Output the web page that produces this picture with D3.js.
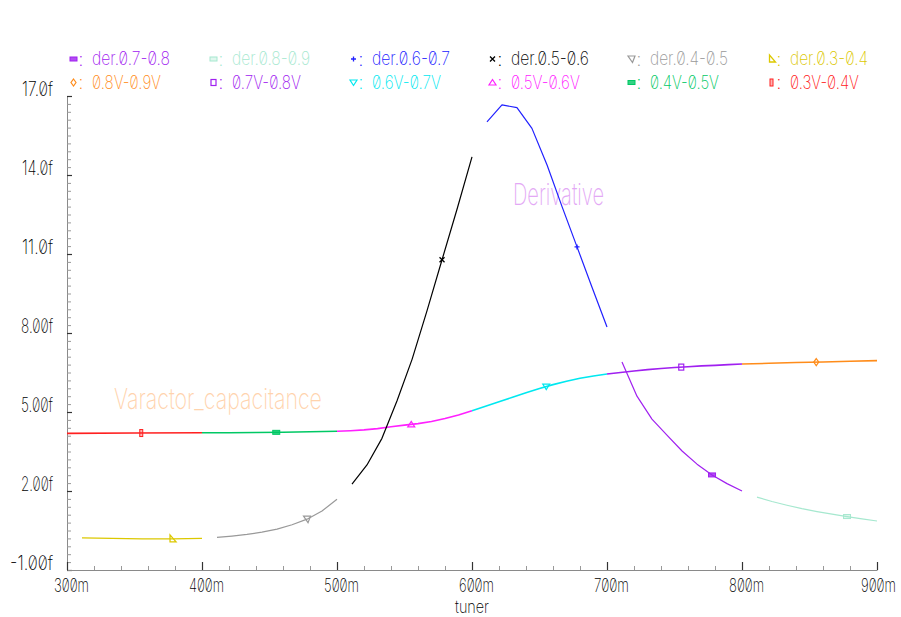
<!DOCTYPE html>
<html><head><meta charset="utf-8">
<script src="https://cdn.jsdelivr.net/npm/d3@7"></script>
<style>
body{margin:0;background:#fff;}
svg text{font-family:Inter,"DejaVu Sans",sans-serif;font-feature-settings:"zero" 1;font-weight:200;}
</style></head><body>
<svg id="c" width="901" height="617"></svg>
<script>
// ---------- data ----------
const xTicks = [0.3,0.4,0.5,0.6,0.7,0.8,0.9];
const xTickLabels = ["300m","400m","500m","600m","700m","800m","900m"];
const yTicks = [-1,2,5,8,11,14,17];
const yTickLabels = ["-1.00f","2.00f","5.00f","8.00f","11.0f","14.0f","17.0f"];

// Varactor capacitance segments (fF vs tuner V)
const capX03 = [0.30,0.35,0.40];
const capY03 = [4.19,4.20,4.21];
const capX04 = [0.40,0.42,0.44,0.46,0.48,0.50];
const capY04 = [4.21,4.21,4.22,4.23,4.25,4.27];
const capX05 = [0.50,0.51,0.52,0.53,0.54,0.55,0.56,0.57,0.58,0.59,0.60];
const capY05 = [4.27,4.29,4.32,4.37,4.44,4.50,4.56,4.64,4.75,4.89,5.05];
const capX06 = [0.60,0.61,0.62,0.63,0.64,0.65,0.66,0.67,0.68,0.69,0.70];
const capY06 = [5.05,5.22,5.39,5.56,5.73,5.89,6.04,6.17,6.28,6.37,6.44];
const capX07 = [0.70,0.71,0.72,0.73,0.74,0.75,0.76,0.77,0.78,0.79,0.80];
const capY07 = [6.44,6.50,6.56,6.61,6.65,6.69,6.72,6.75,6.77,6.80,6.82];
const capX08 = [0.80,0.82,0.84,0.86,0.88,0.90];
const capY08 = [6.82,6.85,6.88,6.90,6.93,6.95];

// Derivative segments
const derX03 = [0.3111,0.3222,0.3333,0.3444,0.3556,0.3667,0.3778,0.3889,0.4000];
const derY03 = [0.22,0.21,0.20,0.19,0.185,0.18,0.18,0.19,0.20];
const derX04 = [0.4111,0.4222,0.4333,0.4444,0.4556,0.4667,0.4778,0.4889,0.5000];
const derY04 = [0.24,0.29,0.35,0.44,0.55,0.72,0.93,1.24,1.69];
const derX05 = [0.5111,0.5222,0.5333,0.5444,0.5556,0.5667,0.5778,0.5889,0.6000];
const derY05 = [2.26,2.99,4.00,5.42,7.00,8.85,10.78,12.70,14.69];
const derX06 = [0.6111,0.6222,0.6333,0.6444,0.6556,0.6667,0.6778,0.6889,0.7000];
const derY06 = [16.02,16.66,16.56,15.77,14.38,12.80,11.27,9.74,8.23];
const derX07 = [0.7111,0.7222,0.7333,0.7444,0.7556,0.7667,0.7778,0.7889,0.8000];
const derY07 = [6.90,5.60,4.73,4.12,3.52,3.02,2.61,2.28,2.00];
const derX08 = [0.8111,0.8222,0.8333,0.8444,0.8556,0.8667,0.8778,0.8889,0.9000];
const derY08 = [1.77,1.60,1.46,1.33,1.22,1.12,1.03,0.94,0.86];

// marker positions along each trace
const markerXCap = [0.355,0.455,0.555,0.655,0.755,0.855];
const markerXDer = [0.3778,0.4778,0.5778,0.6778,0.7778,0.8778];

const legendRow1 = ["der.0.7-0.8","der.0.8-0.9","der.0.6-0.7","der.0.5-0.6","der.0.4-0.5","der.0.3-0.4"];
const legendRow2 = ["0.8V-0.9V","0.7V-0.8V","0.6V-0.7V","0.5V-0.6V","0.4V-0.5V","0.3V-0.4V"];

// ---------- styles ----------
const C = {
  der07:"#a020f0", der08:"#a6e8cf", der06:"#2020ff", der05:"#000000", der04:"#999999", der03:"#dcc800",
  cap08:"#ff8c1a", cap07:"#a020f0", cap06:"#00e8f0", cap05:"#ff20ff", cap04:"#00c864", cap03:"#ff2020"
};

const series = [
  {id:"cap03", xs:capX03, ys:capY03, mx:markerXCap[0], sym:"vbar", w:1.6},
  {id:"cap04", xs:capX04, ys:capY04, mx:markerXCap[1], sym:"hbarFill", w:1.6},
  {id:"cap05", xs:capX05, ys:capY05, mx:markerXCap[2], sym:"triUp", w:1.6},
  {id:"cap06", xs:capX06, ys:capY06, mx:markerXCap[3], sym:"triDown", w:1.6},
  {id:"cap07", xs:capX07, ys:capY07, mx:markerXCap[4], sym:"square", w:1.6},
  {id:"cap08", xs:capX08, ys:capY08, mx:markerXCap[5], sym:"diamond", w:1.6},
  {id:"der03", xs:derX03, ys:derY03, mx:markerXDer[0], sym:"triRight", w:1.2},
  {id:"der04", xs:derX04, ys:derY04, mx:markerXDer[1], sym:"triSkew", w:1.2},
  {id:"der05", xs:derX05, ys:derY05, mx:markerXDer[2], sym:"cross", w:1.2},
  {id:"der06", xs:derX06, ys:derY06, mx:markerXDer[3], sym:"plus", w:1.2},
  {id:"der07", xs:derX07, ys:derY07, mx:markerXDer[4], sym:"hbarFill", w:1.2},
  {id:"der08", xs:derX08, ys:derY08, mx:markerXDer[5], sym:"hbar", w:1.2}
];
const symOf = {}; series.forEach(s=>symOf[s.id]=s.sym);

const svg = d3.select("#c");
const x = d3.scaleLinear([0.3,0.9],[67,877]);
const y = d3.scaleLinear([-1,17],[570,96]);

// horizontally compress a text to a target width, around its anchor x
function fit(sel, w){
  const node = sel.node();
  const nat = node.getComputedTextLength();
  const ax = +sel.attr("x") || 0;
  const s = w / nat;
  sel.attr("transform", `translate(${ax},0) scale(${s},1) translate(${-ax},0)`);
  return sel;
}

function drawSym(g, type, color){
  switch(type){
    case "vbar": g.append("rect").attr("x",-1.5).attr("y",-3.5).attr("width",3).attr("height",7)
        .attr("fill",color).attr("fill-opacity",0.35).attr("stroke",color).attr("stroke-width",1); break;
    case "hbarFill": g.append("rect").attr("x",-3.5).attr("y",-2).attr("width",7).attr("height",4)
        .attr("fill",color).attr("fill-opacity",0.8).attr("stroke",color).attr("stroke-width",1); break;
    case "hbar": g.append("rect").attr("x",-3.5).attr("y",-2).attr("width",7).attr("height",4)
        .attr("fill",color).attr("fill-opacity",0.35).attr("stroke",color).attr("stroke-width",1); break;
    case "square": g.append("rect").attr("x",-2.5).attr("y",-3).attr("width",5).attr("height",6)
        .attr("fill","none").attr("stroke",color).attr("stroke-width",1.2); break;
    case "diamond": g.append("path").attr("d","M0,-3.5L2.5,0L0,3.5L-2.5,0Z")
        .attr("fill","none").attr("stroke",color).attr("stroke-width",1.2); break;
    case "triUp": g.append("path").attr("d","M-3.5,2.5L3.5,2.5L0,-3Z")
        .attr("fill","none").attr("stroke",color).attr("stroke-width",1.2); break;
    case "triDown": g.append("path").attr("d","M-3.5,-2.5L3.5,-2.5L0,3Z")
        .attr("fill","none").attr("stroke",color).attr("stroke-width",1.2); break;
    case "triRight": g.append("path").attr("d","M-2,-4L-2,3L4,3Z")
        .attr("fill","none").attr("stroke",color).attr("stroke-width",1.3); break;
    case "triSkew": g.append("path").attr("d","M-3.5,-3L3.5,-3L1,3.5Z")
        .attr("fill","none").attr("stroke",color).attr("stroke-width",1.2); break;
    case "plus": g.append("path").attr("d","M-2.5,0H2.5M0,-2.5V2.5")
        .attr("fill","none").attr("stroke",color).attr("stroke-width",1.3); break;
    case "cross": g.append("path").attr("d","M-2.5,-2.5L2.5,2.5M-2.5,2.5L2.5,-2.5")
        .attr("fill","none").attr("stroke",color).attr("stroke-width",1.3); break;
  }
}

// ---------- axes ----------
const gy = svg.append("g").attr("transform","translate(67,0)");
gy.call(d3.axisLeft(y).tickValues(d3.range(-1,17.001,0.3)).tickSize(-4).tickSizeOuter(0).tickFormat(""));
gy.selectAll(".tick line").attr("stroke","#999");
gy.select(".domain").attr("stroke","#8a8a8a");
const gy2 = svg.append("g").attr("transform","translate(67,0)");
gy2.call(d3.axisLeft(y).tickValues(yTicks).tickSize(-5).tickSizeOuter(0).tickPadding(14)
   .tickFormat((d,i)=>yTickLabels[i]));
gy2.select(".domain").remove();
gy2.selectAll(".tick line").attr("stroke","#333").attr("stroke-width",1.2);
gy2.selectAll(".tick text").attr("dy","-0.05em").attr("fill","#000").style("font-size","20px")
   .each(function(d,i){ const t=yTickLabels[i]; fit(d3.select(this), t.length>5?43:(t.startsWith("1")?31:32)); });

const gx = svg.append("g").attr("transform","translate(0,570)");
gx.call(d3.axisBottom(x).tickValues(d3.range(0.3,0.9001,0.02)).tickSize(-4).tickSizeOuter(0).tickFormat(""));
gx.selectAll(".tick line").attr("stroke","#999");
gx.select(".domain").attr("stroke","#8a8a8a");
const gx2 = svg.append("g").attr("transform","translate(0,570)");
gx2.call(d3.axisBottom(x).tickValues(xTicks).tickSize(-8).tickSizeOuter(0).tickPadding(21)
   .tickFormat((d,i)=>xTickLabels[i]));
gx2.select(".domain").remove();
gx2.selectAll(".tick line").attr("stroke","#333").attr("stroke-width",1.2);
gx2.selectAll(".tick text").attr("dy","0.05em").attr("x",(d,i)=>i===xTicks.length-1?1:4)
   .attr("fill","#000").style("font-size","19px")
   .each(function(){ fit(d3.select(this),35); });

fit(svg.append("text").attr("x",472).attr("y",613).attr("text-anchor","middle")
   .attr("fill","#000").style("font-size","18px").text("tuner"), 34);

// ---------- annotations ----------
fit(svg.append("text").attr("x",114).attr("y",409).attr("fill","#ffd3ad")
   .style("font-size","29px").text("Varactor_capacitance"), 208);
fit(svg.append("text").attr("x",513).attr("y",205).attr("fill","#e3a8f5")
   .style("font-size","30px").text("Derivative"), 91);

// ---------- traces ----------
const line = d3.line().x(d=>x(d[0])).y(d=>y(d[1]));
series.forEach(s=>{
  const pts = s.xs.map((v,i)=>[v, s.ys[i]]);
  svg.append("path").datum(pts).attr("d",line).attr("fill","none")
     .attr("stroke",C[s.id]).attr("stroke-width",s.w).attr("stroke-linejoin","round");
});
series.forEach(s=>{
  const interp = d3.scaleLinear(s.xs, s.ys);
  const g = svg.append("g").attr("transform",`translate(${x(s.mx)},${y(interp(s.mx))})`);
  drawSym(g, s.sym, C[s.id]);
});

// ---------- legend ----------
const legX = [92,232,372,511,650,790];
const rows = [
  {labels:legendRow1, ids:["der07","der08","der06","der05","der04","der03"], base:65.5, w:78},
  {labels:legendRow2, ids:["cap08","cap07","cap06","cap05","cap04","cap03"], base:89, w:69}
];
rows.forEach(r=>{
  r.labels.forEach((lab,i)=>{
    const col = C[r.ids[i]];
    const g = svg.append("g").attr("transform",`translate(${legX[i]-18.5},${r.base-6.5})`);
    drawSym(g, symOf[r.ids[i]], col);
    svg.append("text").attr("x",legX[i]-11).attr("y",r.base).attr("text-anchor","middle")
       .attr("fill",col).style("font-size","19px").text(":");
    fit(svg.append("text").attr("x",legX[i]).attr("y",r.base).attr("fill",col)
       .style("font-size","19px").text(lab), r.w);
  });
});
</script>
</body></html>
